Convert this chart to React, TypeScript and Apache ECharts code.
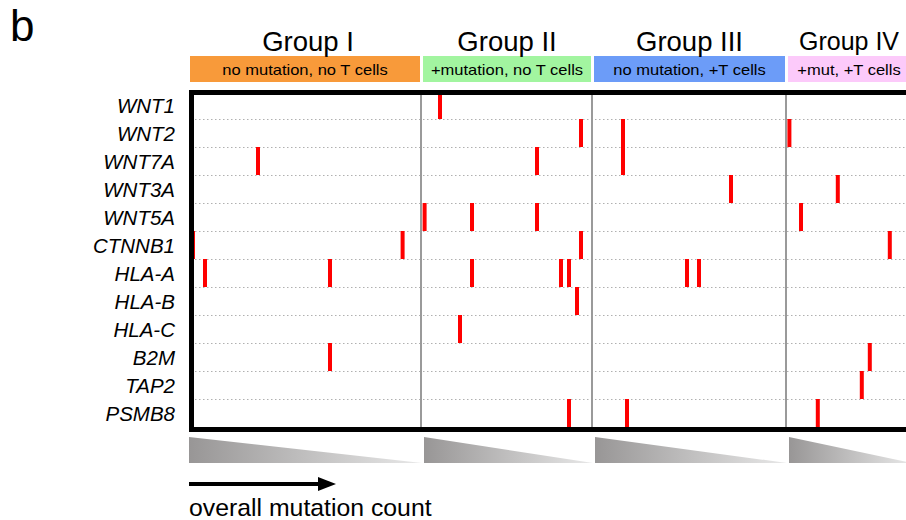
import { useEffect, useRef } from "react";
import * as echarts from "echarts";

// ---- data ----
const genes = ["WNT1", "WNT2", "WNT7A", "WNT3A", "WNT5A", "CTNNB1", "HLA-A", "HLA-B", "HLA-C", "B2M", "TAP2", "PSMB8"];
const groupNames = ["Group I", "Group II", "Group III", "Group IV"];
const groupLabels = ["no mutation, no T cells", "+mutation, no T cells", "no mutation, +T cells", "+mut, +T cells"];
const sampleCount = 180;
// sample-rank boundaries between groups (sorted by overall mutation count within each group)
const groupBounds = [0, 57.5, 100.25, 148.75, 180];

const groupIMutations: [string, number][] = [
  ["WNT7A", 16.75], ["CTNNB1", 0.5], ["CTNNB1", 52.9], ["HLA-A", 3.5], ["HLA-A", 34.75], ["B2M", 34.75],
];
const groupIIMutations: [string, number][] = [
  ["WNT1", 62.25], ["WNT2", 97.5], ["WNT7A", 86.5], ["WNT5A", 58.4], ["WNT5A", 70.25], ["WNT5A", 86.5],
  ["CTNNB1", 97.5], ["HLA-A", 70.25], ["HLA-A", 92.5], ["HLA-A", 94.5], ["HLA-B", 96.5], ["HLA-C", 67.25],
  ["PSMB8", 94.5],
];
const groupIIIMutations: [string, number][] = [
  ["WNT2", 108], ["WNT7A", 108], ["WNT3A", 135], ["HLA-A", 124], ["HLA-A", 127], ["PSMB8", 109],
];
const groupIVMutations: [string, number][] = [
  ["WNT2", 149.6], ["WNT3A", 161.7], ["WNT5A", 152.5], ["CTNNB1", 174.7], ["B2M", 169.7], ["TAP2", 167.7],
  ["PSMB8", 156.7],
];

// ---- styles ----
const FONT = "'Liberation Sans', Arial, Helvetica, sans-serif";
const GRID = { left: 191, top: 91, width: 720, height: 336 };
const groupColors = ["#f89a3a", "#a2f5a0", "#6c9cf8", "#fccafa"];
const groupTitleSizes = [27.5, 27.5, 27.5, 25];

export default function App() {
  const ref = useRef<HTMLDivElement>(null);

  useEffect(() => {
    if (!ref.current) return;
    const chart = echarts.init(ref.current, null, { renderer: "svg" });
    const allMutations = [...groupIMutations, ...groupIIMutations, ...groupIIIMutations, ...groupIVMutations];

    chart.setOption({
      animation: false,
      textStyle: { fontFamily: FONT },
      grid: { ...GRID, containLabel: false, outerBoundsMode: "none" },
      xAxis: {
        type: "value",
        min: 0,
        max: sampleCount,
        show: false,
        splitLine: { show: false },
      },
      yAxis: {
        type: "category",
        data: genes,
        inverse: true,
        boundaryGap: true,
        axisLine: { show: false },
        axisTick: { show: false },
        axisLabel: {
          margin: 16,
          fontStyle: "italic",
          fontSize: 20.5,
          color: "#000",
          fontFamily: FONT,
        },
        splitLine: { show: true, lineStyle: { type: [1.5, 2.5], color: "#b0b0b0", width: 1 } },
      },
      series: [
        {
          type: "scatter",
          symbol: "rect",
          symbolSize: [4, 28],
          itemStyle: { color: "#ff0000", opacity: 1 },
          data: allMutations.map(([g, p]) => [p, g]),
          z: 3,
          markLine: {
            silent: true,
            symbol: ["none", "none"],
            label: { show: false },
            lineStyle: { color: "#9a9a9a", width: 2, type: "solid", opacity: 1 },
            data: groupBounds.slice(1, groupBounds.length - 1).map((v) => ({ xAxis: v })),
            z: 2,
          },
        },
      ],
    });

    const px = (v: number) => chart.convertToPixel({ xAxisIndex: 0 }, v) as number;
    const graphics: any[] = [];

    // panel label
    graphics.push({
      type: "text", x: 10, y: 25, z: 100,
      style: { text: "b", fontSize: 44, fontFamily: FONT, fill: "#000", align: "left", verticalAlign: "middle" },
    });

    for (let i = 0; i < groupNames.length; i++) {
      const a = px(groupBounds[i]);
      const b = px(groupBounds[i + 1]);
      const x0 = i === 0 ? a - 1 : a + 2;
      const x1 = b - 1;
      graphics.push({
        type: "rect", z: 50,
        shape: { x: x0, y: 56, width: x1 - x0, height: 26 },
        style: { fill: groupColors[i] },
      });
      graphics.push({
        type: "text", z: 60, x: (x0 + x1) / 2, y: 70, scaleX: 1.18,
        style: { text: groupLabels[i], fontSize: 14, fontFamily: FONT, fill: "#000", align: "center", verticalAlign: "middle" },
      });
      graphics.push({
        type: "text", z: 60, x: (x0 + x1) / 2 + (i === 0 ? 3 : 0), y: 41,
        style: { text: groupNames[i], fontSize: groupTitleSizes[i], fontFamily: FONT, fill: "#000", align: "center", verticalAlign: "middle" },
      });
      const L = i === 0 ? a - 2 : a + 3;
      const R = b + 1;
      graphics.push({
        type: "polygon", z: 50,
        shape: { points: [[L, 437], [L, 463], [R, 463]] },
        style: {
          fill: new echarts.graphic.LinearGradient(0, 0, 1, 0, [
            { offset: 0, color: "#989696" },
            { offset: 1, color: "#e8e8e8" },
          ]),
        },
      });
    }

    // thick frame
    graphics.push({
      type: "rect", z: 100,
      shape: { x: GRID.left + 0.5, y: GRID.top + 1.5, width: GRID.width + 20, height: GRID.height + 1 },
      style: { fill: "none", stroke: "#000", lineWidth: 5 },
    });

    // arrow + caption
    graphics.push({
      type: "line", z: 100,
      shape: { x1: 189, y1: 484, x2: 322, y2: 484 },
      style: { stroke: "#000", lineWidth: 4 },
    });
    graphics.push({
      type: "polygon", z: 100,
      shape: { points: [[318, 477], [336, 484], [318, 491]] },
      style: { fill: "#000" },
    });
    graphics.push({
      type: "text", z: 100, x: 189, y: 507,
      style: { text: "overall mutation count", fontSize: 24.8, fontFamily: FONT, fill: "#000", align: "left", verticalAlign: "middle" },
    });

    chart.setOption({ graphic: graphics });

    return () => chart.dispose();
  }, []);

  return (
    <div
      ref={ref}
      style={{ position: "absolute", left: 0, top: 0, width: 906, height: 520, background: "#fff" }}
    />
  );
}
